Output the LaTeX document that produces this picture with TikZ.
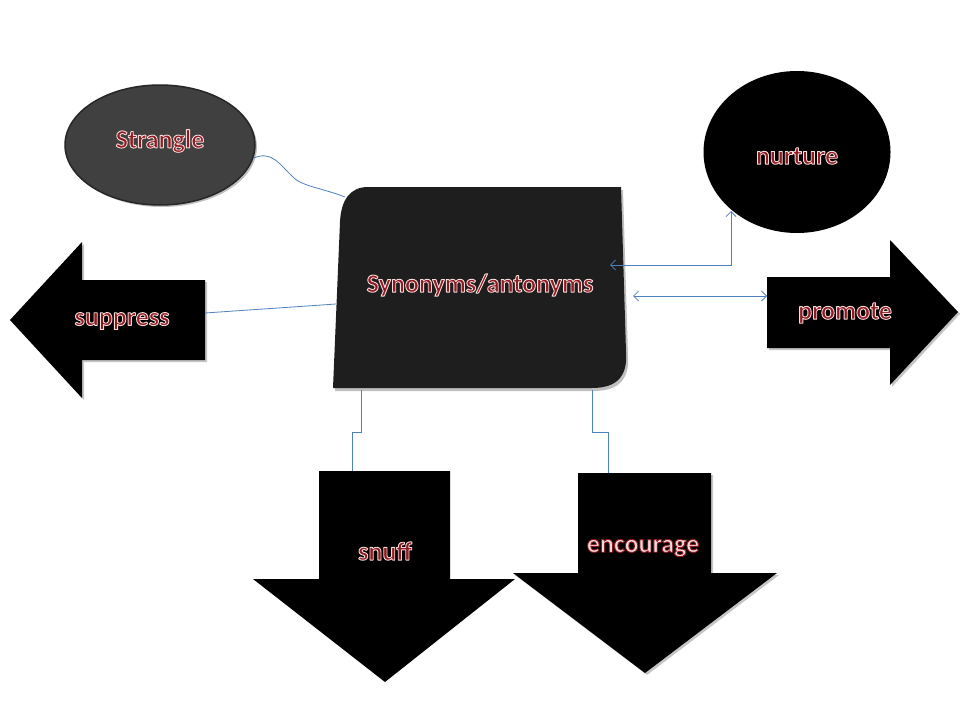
\documentclass[tikz,border=0pt]{standalone}
\usepackage{fontspec}
\setmainfont{Carlito}
\usetikzlibrary{shapes.geometric,shadows,arrows.meta}
\definecolor{conn}{HTML}{4F81BD}
\definecolor{txtred}{HTML}{8E1B22}
\definecolor{txtol}{HTML}{F6DADA}
\definecolor{boxfill}{HTML}{1E1E1E}
\definecolor{ellfill}{HTML}{404040}
% outlined text: #1 stroke rgb, #2 fill colour, #3 text
\newcommand\oltxt[3]{{\color{#2}\special{pdf:literal q 2 Tr 0.9 w 1 J 1 j #1 RG}#3\special{pdf:literal Q}}}
\tikzset{
  lbl/.style={inner sep=0pt, font=\bfseries\fontsize{26}{30}\selectfont},
  shp/.style={fill=black, drop shadow={shadow xshift=2pt, shadow yshift=-2pt, opacity=0.45}},
  cn/.style={draw=conn, line width=0.8pt},
  cnar/.style={cn, {Straight Barb[length=5pt,width=10pt]}-{Straight Barb[length=5pt,width=10pt]}}
}
\begin{document}
\begin{tikzpicture}[x=1pt,y=-1pt]
\fill[white] (0,0) rectangle (960,720);
\useasboundingbox (0,0) rectangle (960,720);

% Strangle ellipse
\node[ellipse, minimum width=190pt, minimum height=120pt, fill=ellfill, draw=black!85, line width=1.5pt,
      drop shadow={shadow xshift=2pt, shadow yshift=-2pt, opacity=0.5}] (strangle) at (160,145) {};
\node[lbl] (strangleT) at (160,141) {\oltxt{0.97 0.86 0.86}{txtred}{Strangle}};

% nurture circle
\node[ellipse, minimum width=187pt, minimum height=162pt, fill=black] (nurture) at (797,152) {};
\node[lbl] (nurtureT) at (797,156) {\oltxt{0.97 0.86 0.86}{txtred}{nurture}};

% central box
\path[fill=boxfill, drop shadow={shadow xshift=2pt, shadow yshift=-3pt, opacity=0.5}]
  (368,187) -- (621,187) -- (626,352) .. controls (628,378) and (615,388) .. (592,388)
  -- (333,388) -- (340,222) .. controls (341,200) and (350,187) .. (368,187) -- cycle;
\node[lbl] (center) at (480,285) {\oltxt{0.97 0.86 0.86}{txtred}{Synonyms/antonyms}};

% suppress arrow
\path[shp] (10,320) -- (82,242) -- (82,280) -- (205,280) -- (205,360) -- (82,360) -- (82,398) -- cycle;
\node[lbl] (suppress) at (122,321) {\oltxt{0.97 0.86 0.86}{txtred}{suppress}};

% promote arrow
\path[shp] (767,277) -- (890,277) -- (890,240) -- (958,312) -- (890,385) -- (890,348) -- (767,348) -- cycle;
\node[lbl] (promote) at (845,313) {\oltxt{0.97 0.86 0.86}{txtred}{promote}};

% snuff arrow
\path[fill=black] (319,471) -- (450,471) -- (450,579) -- (515,579) -- (385,682) -- (253,579) -- (319,579) -- cycle;
\node[lbl] (snuff) at (385,551) {\oltxt{0.97 0.86 0.86}{txtred}{snuff}};

% encourage arrow
\path[shp] (578,473) -- (711,473) -- (711,573) -- (777,573) -- (645,673) -- (513,573) -- (578,573) -- cycle;
\node[lbl] (encourage) at (643,548) {\oltxt{0.55 0.1 0.13}{txtol}{encourage}};

% connection points
\coordinate (boxTL) at (345,197);
\coordinate (boxL) at (336,304);
\coordinate (boxR1) at (610,265);
\coordinate (boxR2) at (633,296);
\coordinate (boxB1) at (361,390);
\coordinate (boxB2) at (592,390);
\coordinate (supR) at (205,313);
\coordinate (proL) at (767,296);
\coordinate (nurB) at (731,211);
\coordinate (snfT) at (352,471);
\coordinate (encT) at (608,473);
\coordinate (snfM) at (361,432);
\coordinate (encM) at (592,432);

% connectors
\draw[cn] (strangle.-8) .. controls (272,150) and (280,165) .. (292,176)
   .. controls (300,186) and (322,188) .. (boxTL);
\draw[cn] (supR) -- (boxL);
\draw[cnar] (boxR1) -| (nurB);
\draw[cnar] (boxR2) -- (proL);
\draw[cn] (boxB1) -- (snfM) -| (snfT);
\draw[cn] (boxB2) -- (encM) -| (encT);
\end{tikzpicture}
\end{document}
